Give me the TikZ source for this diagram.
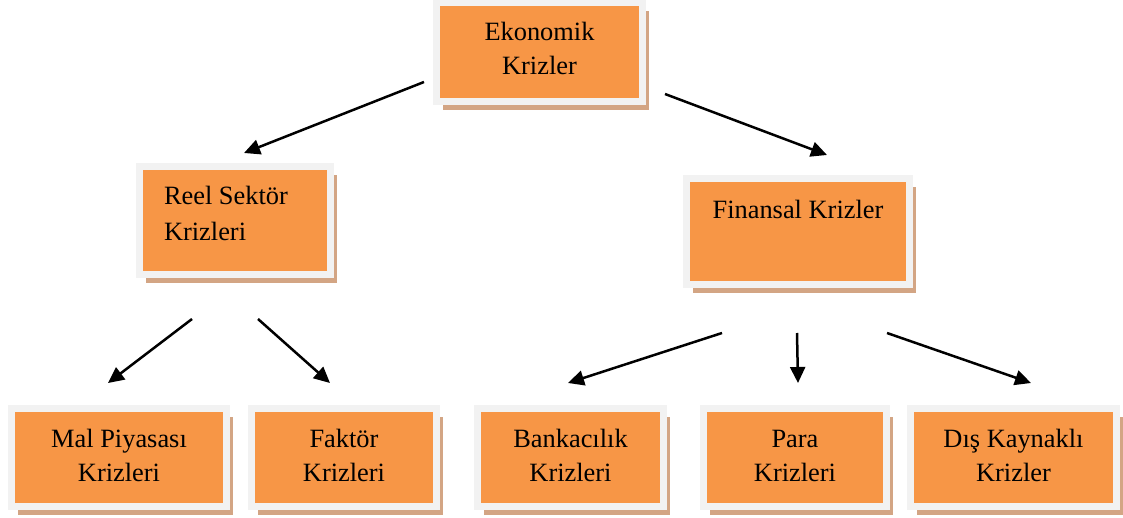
\documentclass[tikz,border=0pt]{standalone}
\usepackage{fontspec}
\setmainfont{Liberation Serif}
\usetikzlibrary{arrows.meta,shadows}
\definecolor{boxorange}{HTML}{F79646}
\definecolor{boxframe}{HTML}{F2F2F2}
\definecolor{boxshadow}{HTML}{D3A584}
\begin{document}
\begin{tikzpicture}[x=1pt,y=-1pt,
  crisis/.style={rectangle, fill=boxorange, draw=boxframe, line width=7pt,
    inner sep=0pt, outer sep=0pt,
    drop shadow={shadow xshift=6.5pt, shadow yshift=-8.5pt, fill=boxshadow, opacity=1}},
  lbl/.style={inner sep=0pt, outer sep=0pt, text=black,
    font=\fontsize{26.4}{34}\selectfont},
  link/.style={line width=2.5pt, -{Triangle[length=16pt,width=15pt]}}]
\useasboundingbox (0,0) rectangle (1123,518);
% boxes
\node[crisis, minimum width=206pt, minimum height=99pt] (eko) at (539.5,52) {};
\node[crisis, minimum width=191pt, minimum height=108pt] (reel) at (235,220.5) {};
\node[crisis, minimum width=223pt, minimum height=106pt] (fin) at (798,231.5) {};
\node[crisis, minimum width=215pt, minimum height=98pt] (mal) at (119,457.5) {};
\node[crisis, minimum width=185pt, minimum height=98pt] (fak) at (344,457.5) {};
\node[crisis, minimum width=186pt, minimum height=98pt] (bank) at (570.5,457.5) {};
\node[crisis, minimum width=183pt, minimum height=98pt] (para) at (795,457.5) {};
\node[crisis, minimum width=206pt, minimum height=98pt] (dis) at (1013.5,457.5) {};
% labels
\node[lbl, anchor=base] (ekot) at (539.5,41) {\begin{tabular}[t]{@{}c@{}}Ekonomik\\Krizler\end{tabular}};
\node[lbl, anchor=base west, font=\fontsize{26.4}{36}\selectfont] (reelt) at (164,205) {\begin{tabular}[t]{@{}l@{}}Reel Sektör\\Krizleri\end{tabular}};
\node[lbl, anchor=base] (fint) at (798,219) {Finansal Krizler};
\node[lbl, anchor=base] (malt) at (119,447) {\begin{tabular}[t]{@{}c@{}}Mal Piyasası\\Krizleri\end{tabular}};
\node[lbl, anchor=base] (fakt) at (344,447) {\begin{tabular}[t]{@{}c@{}}Faktör\\Krizleri\end{tabular}};
\node[lbl, anchor=base] (bankt) at (570.5,447) {\begin{tabular}[t]{@{}c@{}}Bankacılık\\Krizleri\end{tabular}};
\node[lbl, anchor=base] (parat) at (795,447) {\begin{tabular}[t]{@{}c@{}}Para\\Krizleri\end{tabular}};
\node[lbl, anchor=base] (dist) at (1013.5,447) {\begin{tabular}[t]{@{}c@{}}Dış Kaynaklı\\Krizler\end{tabular}};
% arrow ends
\coordinate (eko-l) at (424,82);
\coordinate (reel-in) at (244,153);
\coordinate (eko-r) at (665,94);
\coordinate (fin-in) at (827,155);
\coordinate (reel-l) at (192,319);
\coordinate (mal-in) at (108,383);
\coordinate (reel-r) at (258,319);
\coordinate (fak-in) at (330,383);
\coordinate (fin-l) at (722,333);
\coordinate (bank-in) at (568,383);
\coordinate (fin-m) at (797,333);
\coordinate (para-in) at (798,383);
\coordinate (fin-r) at (887,333);
\coordinate (dis-in) at (1031,383);
\draw[link] (eko-l) -- (reel-in);
\draw[link] (eko-r) -- (fin-in);
\draw[link] (reel-l) -- (mal-in);
\draw[link] (reel-r) -- (fak-in);
\draw[link] (fin-l) -- (bank-in);
\draw[link] (fin-m) -- (para-in);
\draw[link] (fin-r) -- (dis-in);
\end{tikzpicture}
\end{document}
